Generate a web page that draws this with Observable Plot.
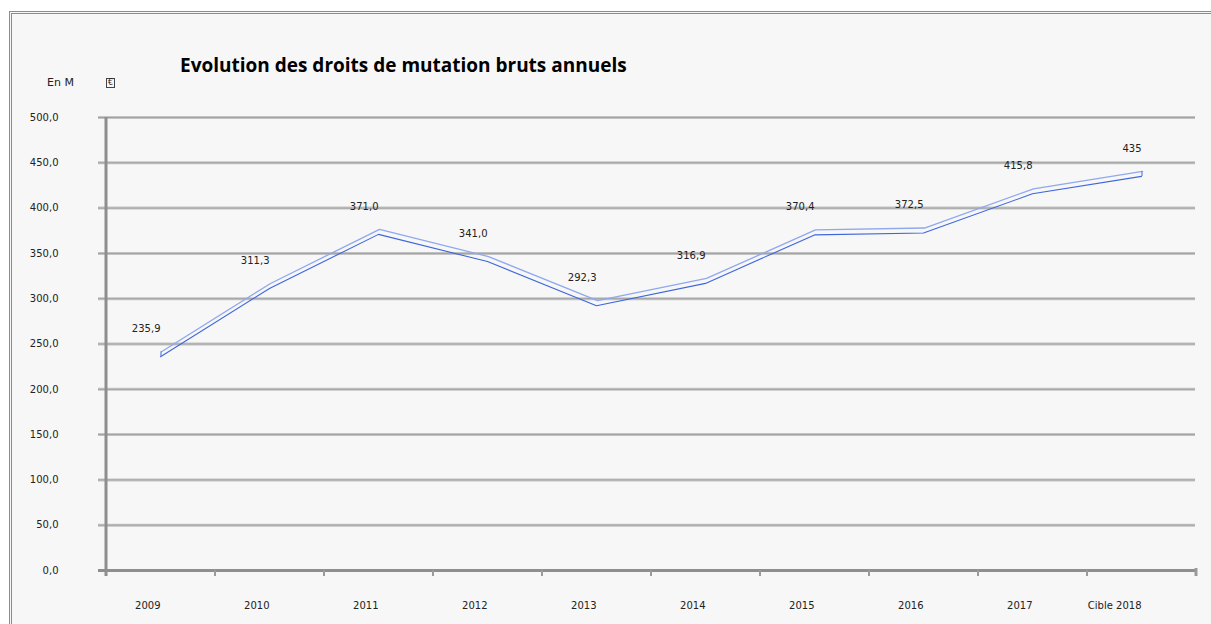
<!DOCTYPE html>
<html>
<head>
<meta charset="utf-8">
<script src="https://cdn.jsdelivr.net/npm/d3@7"></script>
<script src="https://cdn.jsdelivr.net/npm/@observablehq/plot@0.6"></script>
<style>
  html, body { margin: 0; padding: 0; background: #ffffff; overflow: hidden; }
  #wrap { position: relative; width: 1211px; height: 624px; }
  #frame { position: absolute; left: 9px; top: 11px; width: 1220px; height: 640px;
           border-left: 3px double #8c8c8c; border-top: 3px double #8c8c8c;
           background: #f7f7f7; box-sizing: border-box; }
  #title { position: absolute; left: 180px; top: 52px; font-family: "Open Sans", sans-serif;
           font-weight: 700; font-size: 19px; color: #000; white-space: nowrap; }
  #unit { position: absolute; left: 47px; top: 76px; font-family: "DejaVu Sans", sans-serif;
          font-size: 11px; color: #222; }
  #euro { position: absolute; left: 106px; top: 78px; font-family: "DejaVu Sans", sans-serif;
          font-size: 8px; color: #222; border: 1px solid #444; line-height: 8px; padding: 0 1px; }
  #chart { position: absolute; left: 0; top: 0; }
  #chart svg { background: transparent; }
</style>
</head>
<body>
<div id="wrap">
  <div id="frame"></div>
  <div id="title">Evolution des droits de mutation bruts annuels</div>
  <div id="unit">En M</div>
  <div id="euro">€</div>
  <div id="chart"></div>
</div>
<script>
const years = ["2009", "2010", "2011", "2012", "2013", "2014", "2015", "2016", "2017", "Cible 2018"];
const values = [235.9, 311.3, 371.0, 341.0, 292.3, 316.9, 370.4, 372.5, 415.8, 435];
const valueLabels = ["235,9", "311,3", "371,0", "341,0", "292,3", "316,9", "370,4", "372,5", "415,8", "435"];
const yTicks = [0, 50, 100, 150, 200, 250, 300, 350, 400, 450, 500];

const data = years.map((year, i) => ({year, value: values[i], label: valueLabels[i]}));

const W = 1211, H = 624;
const mL = 105, mR = 16, mT = 117, mB = 54;
const half = (W - mL - mR) / years.length / 2;
const fmt = d => d.toFixed(1).replace(".", ",");

const chart = Plot.plot({
  width: W,
  height: H,
  marginLeft: mL,
  marginRight: mR,
  marginTop: mT,
  marginBottom: mB,
  style: {background: "transparent", fontFamily: "DejaVu Sans, sans-serif", fontSize: "10px", color: "#222"},
  x: {type: "point", domain: years, padding: 0.5, axis: null},
  y: {domain: [0, 500], axis: null},
  marks: [
    // gridlines (double-tone)
    Plot.ruleY(yTicks.filter(d => d > 0), {stroke: "#c4c4c4", strokeWidth: 3, insetLeft: -7}),
    Plot.ruleY(yTicks.filter(d => d > 0), {stroke: "#a2a2a2", strokeWidth: 1, insetLeft: -7}),
    // baseline
    Plot.ruleY([0], {stroke: "#8e8e8e", strokeWidth: 3, insetLeft: -7}),
    // left axis line
    Plot.ruleX([years[0]], {dx: -half, stroke: "#8e8e8e", strokeWidth: 3, insetBottom: -6}),
    // x tick marks at category boundaries
    Plot.ruleX(years.slice(1), {dx: -half, y1: 0, y2: 0, insetBottom: -6, stroke: "#9a9a9a", strokeWidth: 2}),
    Plot.ruleX([years[years.length - 1]], {dx: half, y1: 0, y2: 0, insetBottom: -6, insetTop: -2, stroke: "#9a9a9a", strokeWidth: 3}),
    // y tick labels
    Plot.axisY(yTicks, {tickSize: 0, tickPadding: 47, tickFormat: fmt, label: null, fontSize: 10, fill: "#222"}),
    // x labels
    Plot.text(years, {x: d => d, frameAnchor: "bottom", dy: 38, textAnchor: "end", fontSize: 10, fill: "#222"}),
    // ribbon: back edge
    Plot.line(data, {x: "year", y: "value", stroke: "#8fa8ee", strokeWidth: 1.3, dx: 1, dy: -5}),
    // ribbon: front edge
    Plot.line(data, {x: "year", y: "value", stroke: "#3d66dc", strokeWidth: 1.1}),
    // ribbon end caps
    Plot.ruleX([data[0], data[data.length - 1]], {x: "year", y1: "value", y2: "value", insetTop: -5, dx: 0.5, stroke: "#5f82e2", strokeWidth: 1.2}),
    // value labels
    Plot.text(data, {x: "year", y: "value", text: "label", textAnchor: "end", dy: -28, fontSize: 10, fill: "#222"})
  ]
});
document.getElementById("chart").appendChild(chart);
</script>
</body>
</html>
